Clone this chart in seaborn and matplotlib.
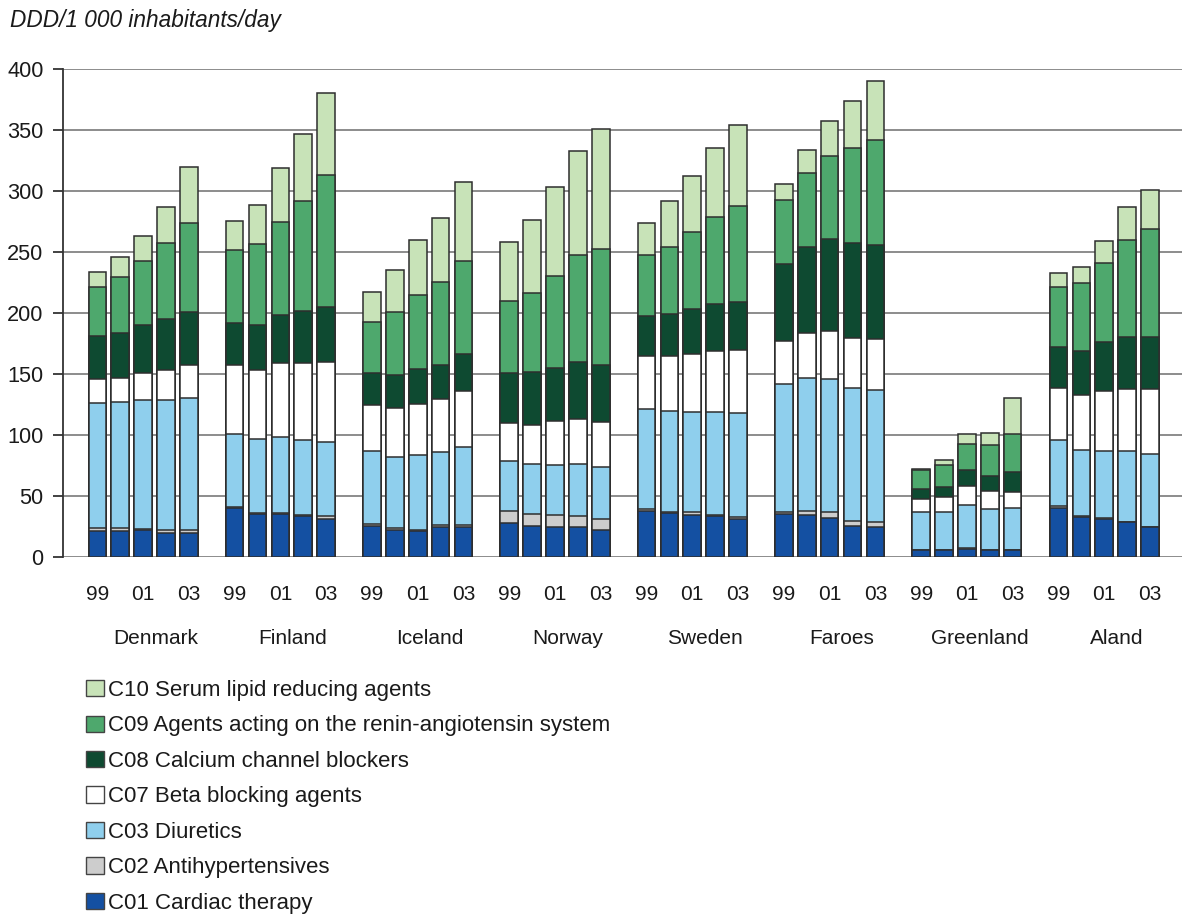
import numpy as np
import pandas as pd
import seaborn as sns
import matplotlib.pyplot as plt
import matplotlib.transforms as mtransforms
from matplotlib.patches import Patch

# data, DDD/1 000 inhabitants/day, years 1999-2003 per country
countries = ['Denmark', 'Finland', 'Iceland', 'Norway', 'Sweden', 'Faroes', 'Greenland', 'Aland']
years = ['99', '00', '01', '02', '03']
year_labels = ['99', '', '01', '', '03']

c01 = [21.5, 21.5, 22, 20, 20,
       40.5, 35, 35, 33.5, 31,
       25.5, 22.5, 21.5, 25, 25,
       28, 25.5, 25, 25, 22,
       38, 36, 34.5, 33.5, 31,
       35, 34.5, 32, 25.5, 25,
       5.5, 5.5, 6.5, 5.5, 5.5,
       40.5, 33, 31, 28.5, 24.5]
c02 = [2, 2, 1, 2, 2,
       0.5, 1, 1, 1, 2.5,
       1.5, 1, 0.5, 1, 1,
       9.5, 9.5, 9.5, 8.5, 9,
       1.5, 1, 2, 1, 2,
       2, 3.5, 4.5, 4, 3.5,
       0, 0, 0.5, 0, 0,
       1, 0.5, 1, 0.5, 0.5]
c03 = [103, 103.5, 105.5, 107, 108,
       60, 61, 62, 61.5, 61,
       60, 58.5, 61.5, 60, 64.5,
       41.5, 41.5, 41, 42.5, 42.5,
       82, 82.5, 82, 84.5, 85,
       104.5, 108.5, 109.5, 109, 108,
       31, 31.5, 36, 34, 35,
       54, 54, 55, 58, 59.5]
c07 = [19, 20, 22, 24, 27,
       56, 56.5, 61, 63, 65.5,
       37.5, 40, 42, 43.5, 45.5,
       31, 32, 36, 37.5, 37.5,
       43.5, 45.5, 47.5, 50, 52,
       35.5, 37.5, 39, 41, 42,
       11, 12, 15.5, 15, 13,
       43, 45.5, 49, 51, 53.5]
c08 = [36, 37, 39.5, 42, 43.5,
       34.5, 37, 39, 42.5, 45,
       26, 27.5, 29, 28, 30,
       40.5, 43, 43.5, 46, 46,
       32.5, 34.5, 37, 38, 39,
       63, 70.5, 76, 77.5, 77,
       8, 8, 12.5, 12, 16,
       34, 36, 40.5, 42.5, 42.5]
c09 = [40, 45.5, 52.5, 62.5, 73,
       60, 66, 77, 90.5, 108,
       42, 51, 60, 68, 77,
       59, 65, 75.5, 88, 95.5,
       50, 55, 63.5, 72, 79,
       52.5, 60, 68, 78.5, 86,
       15.5, 18.5, 22, 25, 31,
       48.5, 55.5, 64.5, 79, 88]
c10 = [12.5, 16.5, 21, 29, 46,
       24, 32, 44, 54.5, 67,
       25, 35, 45, 52.5, 64.5,
       49, 60, 73, 85, 98.5,
       26.5, 37, 46, 56, 66,
       13, 19, 28.5, 38.5, 49,
       1.5, 4, 7.5, 10, 30,
       11.5, 13.5, 18, 27, 32.5]

groups = ['C01 Cardiac therapy', 'C02 Antihypertensives', 'C03 Diuretics',
          'C07 Beta blocking agents', 'C08 Calcium channel blockers',
          'C09 Agents acting on the renin-angiotensin system',
          'C10 Serum lipid reducing agents']
colors = ['#1450a2', '#cdcdcd', '#8fcfed', '#ffffff', '#0e4a31', '#4ea86d', '#c8e3b8']

# long table: one row per country/year, one column per group
rows = []
for g, country in enumerate(countries):
    for i, yr in enumerate(years):
        rows.append({'country': country, 'year': yr, 'pos': g * 6 + i + 1})
df = pd.DataFrame(rows)
for name, vals in zip(groups, [c01, c02, c03, c07, c08, c09, c10]):
    df[name] = vals

cum = df[groups].cumsum(axis=1)

sns.set_style('white')
plt.rcParams['font.family'] = ['Liberation Sans', 'DejaVu Sans']

fig = plt.figure(figsize=(11.82, 9.18), dpi=100)
ax = fig.add_axes([63 / 1182, 1 - 557 / 918, 1 - 63 / 1182, 488 / 918])

# stacked bars: draw the cumulative totals from the top group down
for name, color in reversed(list(zip(groups, colors))):
    sns.barplot(x=df['pos'], y=cum[name], native_scale=True, width=0.77,
                color=color, saturation=1, edgecolor='#2e2e2e', linewidth=1.1,
                errorbar=None, ax=ax)

ax.set_xlim(-0.5, 48.4)
ax.set_ylim(0, 400)
ax.set_yticks(range(0, 401, 50))
ax.yaxis.grid(True, color='#8c8c8c', linewidth=1.4)
ax.set_axisbelow(True)
for s in ['top', 'right', 'bottom']:
    ax.spines[s].set_visible(False)
ax.spines['left'].set_color('#333333')
ax.spines['left'].set_linewidth(1.3)
ax.tick_params(axis='y', which='major', left=True, length=7, width=1.3,
               color='#333333', labelsize=15.7, labelcolor='#1a1a1a', pad=7)

ax.set_xticks(df['pos'])
ax.set_xticklabels(year_labels * len(countries))
ax.tick_params(axis='x', length=0, pad=20, labelsize=15, labelcolor='#1a1a1a')
ax.set_xlabel('')
ax.set_ylabel('')

trans = mtransforms.blended_transform_factory(ax.transData, ax.transAxes)
for g, country in enumerate(countries):
    ax.text(g * 6 + 3.55, -0.166, country, transform=trans, ha='center', va='center',
            fontsize=15, color='#1a1a1a')

fig.text(10 / 1182, 1 - 21 / 918, 'DDD/1 000 inhabitants/day', style='italic',
         fontsize=16.3, color='#1a1a1a', ha='left', va='center')

handles = [Patch(facecolor=c, edgecolor='#444444', linewidth=1, label=n)
           for n, c in zip(groups, colors)]
fig.legend(handles=handles[::-1], loc='upper left',
           bbox_to_anchor=(86 / 1182, 1 - 680 / 918), frameon=False,
           fontsize=16, handlelength=0.8, handleheight=0.75,
           handletextpad=0.2, labelspacing=0.65, borderaxespad=0,
           borderpad=0, labelcolor='#1a1a1a')

plt.savefig('out.png', dpi=100)
